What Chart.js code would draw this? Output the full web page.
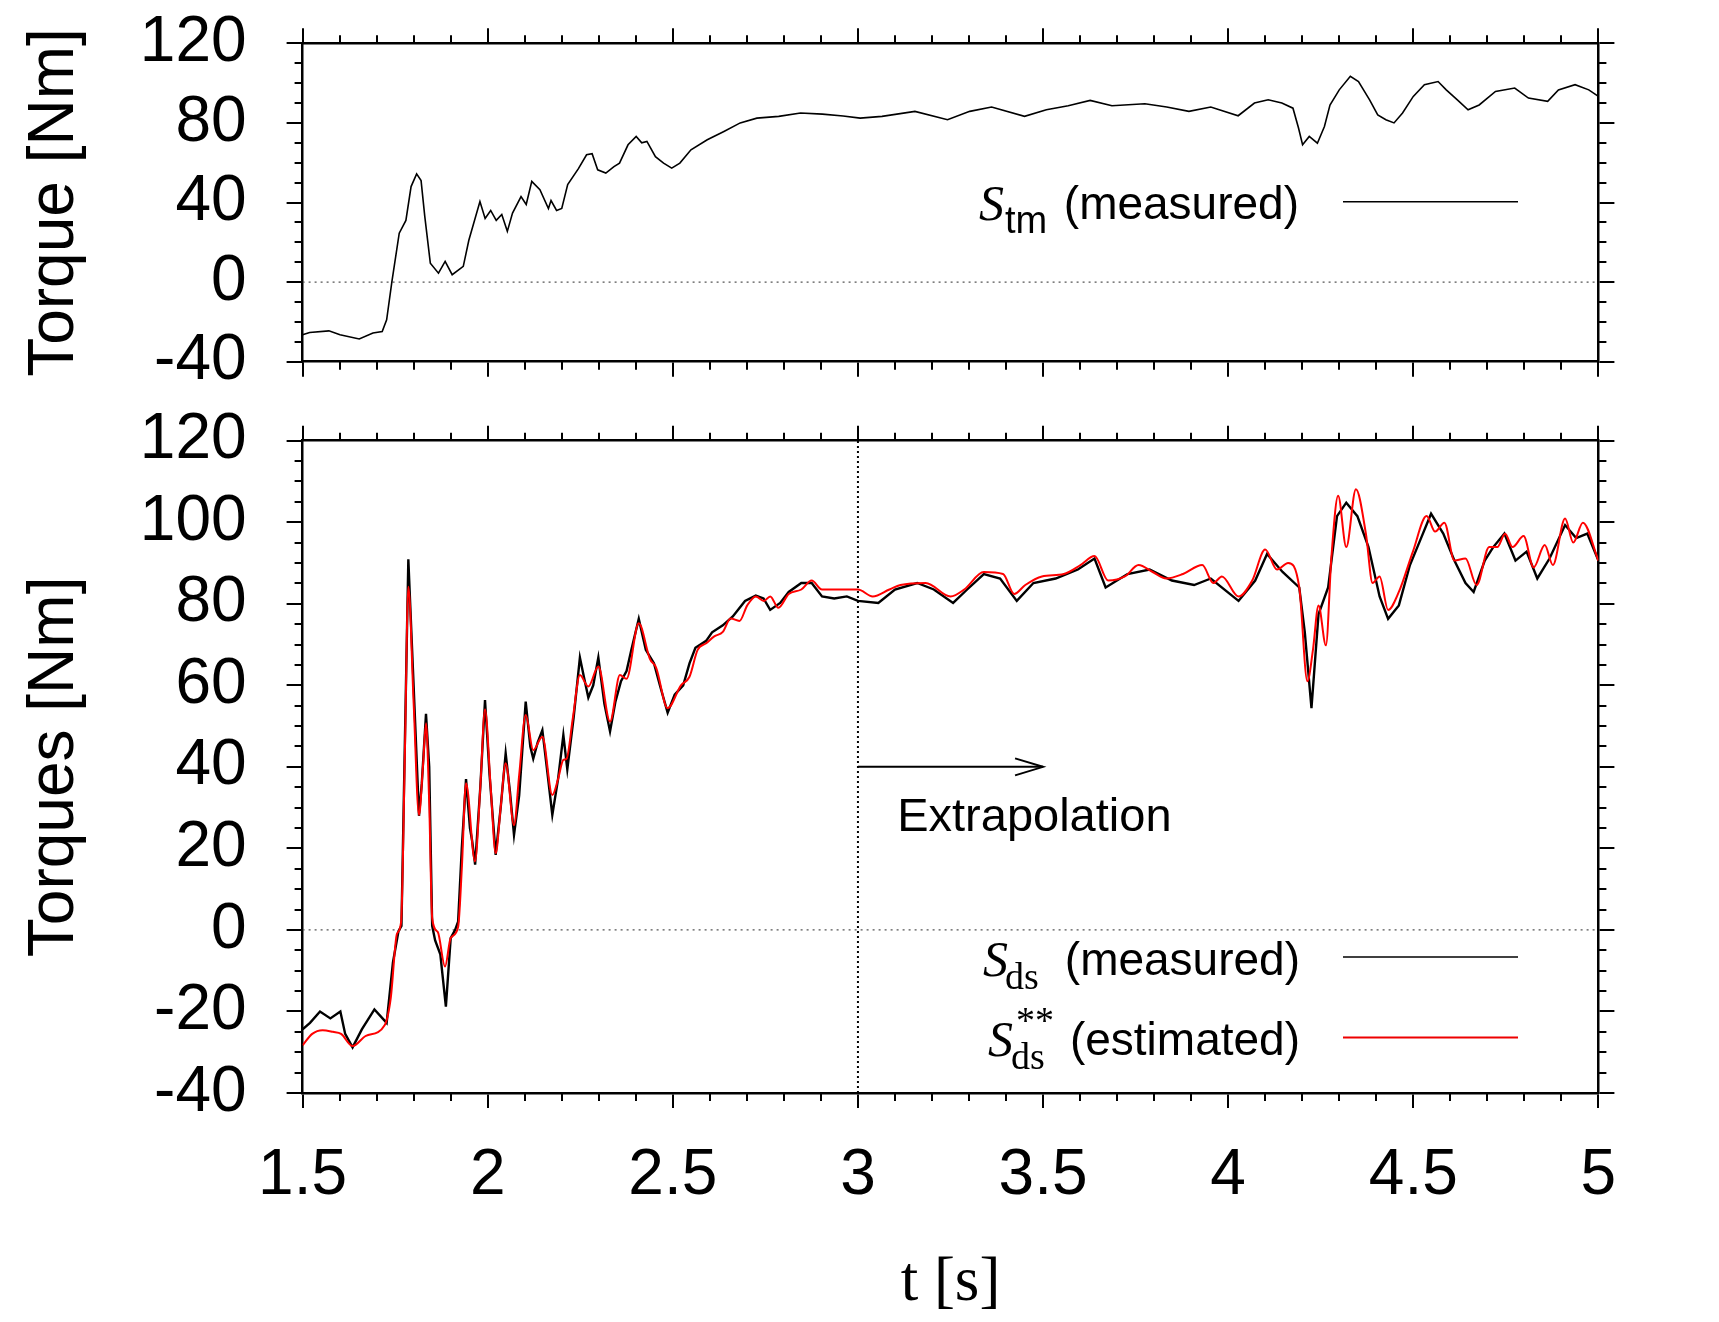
<!DOCTYPE html>
<html>
<head>
<meta charset="utf-8">
<script src="https://cdn.jsdelivr.net/npm/chart.js@4.4.1/dist/chart.umd.min.js"></script>
<style>
html,body{margin:0;padding:0;background:#fff;}
#wrap{position:relative;width:1719px;height:1322px;background:#fff;overflow:hidden;}
#c1{position:absolute;left:0;top:0;width:1719px;height:410px;}
#c2{position:absolute;left:0;top:400px;width:1719px;height:922px;}
</style>
</head>
<body>
<div id="wrap">
<canvas id="c1" width="1719" height="410"></canvas>
<canvas id="c2" width="1719" height="922"></canvas>
</div>
<script>
// ---------------- DATA ----------------
// Top panel: S_tm (measured)
const tmT = [1.5,1.519,1.571,1.601,1.653,1.69,1.715,1.727,1.741,1.761,1.779,1.793,1.808,1.82,1.83,1.845,1.867,1.885,1.904,1.934,1.949,1.979,1.993,2.008,2.023,2.038,2.053,2.067,2.09,2.104,2.119,2.141,2.164,2.171,2.186,2.2,2.216,2.245,2.267,2.282,2.297,2.319,2.341,2.356,2.379,2.401,2.416,2.43,2.453,2.475,2.497,2.519,2.549,2.593,2.638,2.682,2.727,2.786,2.845,2.904,2.96,3.006,3.065,3.154,3.242,3.302,3.361,3.45,3.509,3.568,3.627,3.686,3.775,3.834,3.894,3.953,4.027,4.071,4.108,4.145,4.175,4.19,4.201,4.219,4.241,4.26,4.275,4.3,4.33,4.352,4.382,4.404,4.426,4.448,4.471,4.5,4.53,4.567,4.589,4.619,4.648,4.678,4.722,4.774,4.811,4.863,4.892,4.937,4.974,5.0];
const tmV = [-26.5,-25.3,-24.5,-26.5,-28.6,-25.6,-24.8,-19,0,24.6,31,48,54.4,51,33,9.5,4.5,10.4,3.7,7.9,21,40.5,32,36,31,34,25.5,34.7,43,39,50.6,46.4,37,41,36,37,49,57,64,64.5,56.4,54.8,58,59.8,69,73.2,70,70.7,63,59.8,57.3,59.8,66.5,71.5,75.7,80,82.4,83.3,85,84.4,83.5,82.4,83.3,85.8,81.6,85.8,88,83.3,86.6,88.6,91.3,88.6,89.6,88,85.8,88,83.6,90,91.6,90,87.4,77.4,69,73.2,69.8,78.2,89,96.6,103.4,100.8,91.6,84,81.6,80,85,93.3,99.2,100.8,96.6,91.6,86.6,89,95.8,97.5,92.5,90.8,96.6,99.2,96.6,93.3];

// Bottom panel: S_ds (measured)
const dsT = [1.5,1.52,1.547,1.575,1.602,1.615,1.635,1.66,1.694,1.727,1.744,1.759,1.767,1.775,1.7856,1.798,1.8144,1.822,1.8333,1.842,1.85,1.858,1.872,1.887,1.9,1.912,1.92,1.93,1.9414,1.952,1.958,1.966,1.98,1.9927,2.005,2.0215,2.035,2.0485,2.06,2.071,2.085,2.1026,2.115,2.123,2.135,2.1476,2.162,2.1745,2.19,2.2043,2.215,2.232,2.249,2.26,2.2718,2.285,2.2988,2.315,2.3304,2.345,2.36,2.375,2.388,2.408,2.427,2.449,2.465,2.486,2.505,2.528,2.545,2.561,2.59,2.606,2.635,2.662,2.695,2.724,2.745,2.763,2.79,2.813,2.847,2.875,2.903,2.936,2.97,3.0,3.055,3.1,3.16,3.205,3.257,3.295,3.34,3.384,3.429,3.474,3.534,3.594,3.639,3.669,3.728,3.788,3.848,3.908,3.953,4.028,4.073,4.105,4.147,4.192,4.207,4.225,4.244,4.27,4.294,4.319,4.349,4.379,4.409,4.432,4.461,4.491,4.521,4.548,4.581,4.611,4.641,4.663,4.693,4.716,4.746,4.776,4.806,4.835,4.868,4.91,4.94,4.97,5.0];
const dsV = [-24.4,-22.8,-20,-21.7,-20,-25.5,-28.8,-24.4,-19.5,-22.8,-8,-0.3,1,40,90.9,64,28,36,53,40,1,-2.6,-6,-18.8,-2,0,2,20,37,25,21.8,16,35,56.4,38,18.4,30,43.3,34,23.3,33,56,45,42,46,49,38,28.2,37,47.8,39.4,52,66.8,62,57,60,66.8,55.5,48.7,56,61,63.5,68.7,76.3,68.7,65.4,60,53.3,57.7,60,65.4,69.2,70.9,73,74.7,76.9,80.7,82,81.3,78.5,80.2,82.9,85.1,85.1,81.8,81.3,81.8,80.7,80.2,83.5,85.1,83.5,80.2,83.5,87.3,86.2,80.7,85.1,86.2,88.4,91.1,84,87.3,88.4,85.7,84.6,86.2,80.7,85.7,92.2,87.8,84,73,54.4,77.4,84,101.5,104.8,101.5,93.9,81.8,76.3,79.6,89.5,96.1,102.1,97.2,90.6,85.1,82.9,90.6,93.9,97.2,90.6,92.8,86.2,91.1,99.3,96.1,97.2,90.6];

// Bottom panel: S_ds** (estimated)
const estT = [1.5,1.526,1.554,1.582,1.604,1.635,1.671,1.722,1.738,1.755,1.766,1.776,1.7856,1.8,1.8144,1.825,1.8333,1.842,1.85,1.865,1.8847,1.9,1.92,1.93,1.9414,1.9657,1.98,1.9927,2.008,2.0215,2.035,2.0485,2.071,2.085,2.1026,2.123,2.1476,2.1745,2.19,2.2043,2.213,2.23,2.249,2.2718,2.2988,2.3304,2.357,2.375,2.408,2.438,2.455,2.486,2.522,2.545,2.567,2.59,2.612,2.635,2.656,2.68,2.701,2.724,2.746,2.763,2.785,2.813,2.847,2.875,2.903,2.948,3.0,3.04,3.085,3.115,3.183,3.25,3.287,3.34,3.392,3.422,3.452,3.497,3.556,3.601,3.639,3.676,3.721,3.758,3.796,3.833,3.878,3.93,3.96,3.983,4.028,4.065,4.1,4.132,4.162,4.192,4.214,4.229,4.244,4.264,4.279,4.297,4.319,4.345,4.372,4.39,4.409,4.432,4.461,4.499,4.536,4.559,4.584,4.611,4.641,4.671,4.705,4.727,4.748,4.768,4.798,4.825,4.855,4.877,4.91,4.932,4.958,5.0];
const estV = [-28.3,-25.5,-24.6,-25,-25.5,-28.5,-26,-23.3,-16.8,-0.9,1.9,42,84.2,55.5,28.2,40,50.7,31,2.9,-0.5,-9,-2,0.7,15,36,16.8,35,54.1,35,18.8,30,40.9,25.7,38,52.7,44.1,47.4,33.1,37,41.7,42,52,62.5,59.7,64.6,51.1,62.5,61.6,75.2,66.5,64.3,54.4,60,62.1,68.7,70.3,72,73.1,76.4,75.8,79.6,81.8,80.7,81.8,79,82.4,83.5,85.7,83.5,83.5,83.5,81.8,83.5,84.6,85.1,81.8,83.5,87.8,87.3,82.4,84.6,86.7,87.3,89.5,91.7,85.7,86.7,89.5,87.8,86.2,87.3,89.5,85.1,86.7,81.8,85.7,93.3,88.4,90,84,61,68.7,79.6,69.8,91.7,106.5,93.9,108.1,97.2,85.1,86.7,78.5,82.9,92.8,101.5,97.7,99.9,90.6,91.1,84.6,93.9,93.9,97.2,93.9,96.6,88.9,94.4,89.5,100.9,95,99.9,90.6];

// Axes / ticks
const xTicks = [1.5, 2, 2.5, 3, 3.5, 4, 4.5, 5];
const yTopTicks = [-40, 0, 40, 80, 120];
const yBotTicks = [-40, -20, 0, 20, 40, 60, 80, 100, 120];

// Texts
const yTopTitle = 'Torque [Nm]';
const yBotTitle = 'Torques [Nm]';
const xTitle = 't [s]';
const legendTop = ['S', 'tm', '(measured)'];
const legendBot1 = ['S', 'ds', '(measured)'];
const legendBot2 = ['S', 'ds', '(estimated)', '**'];
const noteText = 'Extrapolation';

// Annotation anchors (data coordinates)
const extrapT = 3.0;
const arrowT = [3.0, 3.5];
const arrowV = 40;
const noteT = 3.106;
const noteV = 27.5;

// ---------------- HELPERS ----------------
const FS = '"Liberation Sans", Arial, Helvetica, sans-serif';
const FT = '"Liberation Serif", "Times New Roman", serif';
const pts = (T, V) => T.map((t, i) => ({x: t, y: V[i]}));

function decoPlugin(id, xMinor, xMajor, yMinor, yMajor) {
  return {
    id: id,
    afterDraw(chart) {
      const ctx = chart.ctx, a = chart.chartArea, xs = chart.scales.x, ys = chart.scales.y;
      const len = 8;
      const isMajor = (v, min, step) => { const r = (v - min) / step; return Math.abs(r - Math.round(r)) < 1e-6; };
      ctx.save();
      ctx.strokeStyle = '#000'; ctx.lineWidth = 2; ctx.setLineDash([]);
      ctx.beginPath();
      for (let i = 0; i < 1000; i++) {
        const v = xs.min + i * xMinor;
        if (v > xs.max + 1e-9) break;
        if (isMajor(v, xs.min, xMajor)) continue;
        const p = Math.round(xs.getPixelForValue(v));
        ctx.moveTo(p, a.bottom); ctx.lineTo(p, a.bottom + len);
        ctx.moveTo(p, a.top); ctx.lineTo(p, a.top - len);
      }
      for (let i = 0; i < 1000; i++) {
        const v = ys.min + i * yMinor;
        if (v > ys.max + 1e-9) break;
        if (isMajor(v, ys.min, yMajor)) continue;
        const p = Math.round(ys.getPixelForValue(v));
        ctx.moveTo(a.left, p); ctx.lineTo(a.left - len, p);
        ctx.moveTo(a.right, p); ctx.lineTo(a.right + len, p);
      }
      ctx.stroke();
      ctx.restore();
    }
  };
}

function drawLegendRow(ctx, r) {
  ctx.save();
  ctx.fillStyle = '#000';
  ctx.textBaseline = 'alphabetic';
  ctx.textAlign = 'left';
  ctx.font = 'italic 50px ' + FT;
  ctx.fillText(r.parts[0], r.sx, r.base + 1);
  ctx.font = r.subFont;
  ctx.fillText(r.parts[1], r.subx, r.base + 14);
  if (r.parts[3]) {
    ctx.font = '38px ' + FT;
    ctx.fillText(r.parts[3], r.supx, r.base - 22);
  }
  ctx.font = '46px ' + FS;
  ctx.textAlign = 'right';
  ctx.fillText(r.parts[2], r.R, r.base);
  ctx.strokeStyle = r.color; ctx.lineWidth = r.lw; ctx.setLineDash([]);
  ctx.beginPath(); ctx.moveTo(1343, r.ly); ctx.lineTo(1518, r.ly); ctx.stroke();
  ctx.restore();
}

const noPad = s => { s.paddingTop = 0; s.paddingBottom = 0; s.paddingLeft = 0; s.paddingRight = 0; };

function scalesFor(o) {
  const grid = {display: true, drawOnChartArea: false, drawTicks: true, color: '#000', tickColor: '#000', lineWidth: 2, tickWidth: 2};
  const border = {display: true, color: '#000', width: 2.5};
  const setX = s => { s.ticks = xTicks.map(v => ({value: v})); };
  const setY = s => { s.ticks = o.yTicks.map(v => ({value: v})); };
  return {
    x: {
      type: 'linear', position: 'bottom', min: 1.5, max: 5, afterBuildTicks: setX,
      ticks: {display: o.xLabels, autoSkip: false, maxRotation: 0, minRotation: 0, padding: 30, color: '#000',
              font: {family: FS, size: 64}, callback: v => String(v)},
      grid: Object.assign({}, grid, {tickLength: 15}), border: border,
      title: o.xTitle ? {display: true, text: o.xTitle, color: '#000', font: {family: FT, size: 63}, padding: {top: 0, bottom: 1}} : {display: false},
      afterFit: s => { s.height = o.xH; noPad(s); }
    },
    x2: {
      type: 'linear', position: 'top', min: 1.5, max: 5, afterBuildTicks: setX,
      ticks: {display: false, autoSkip: false},
      grid: Object.assign({}, grid, {tickLength: 15}), border: border,
      afterFit: s => { s.height = o.topH; noPad(s); }
    },
    y: {
      type: 'linear', position: 'left', min: -40, max: 120, afterBuildTicks: setY,
      ticks: {autoSkip: false, padding: 40, color: '#000', font: {family: FS, size: 64}, callback: v => String(v)},
      grid: Object.assign({}, grid, {tickLength: 16}), border: border,
      title: {display: true, text: o.yTitle, color: '#000', font: {family: FS, size: 64}, padding: {top: 17, bottom: 0}},
      afterFit: s => { s.width = 302.6; noPad(s); }
    },
    y2: {
      type: 'linear', position: 'right', min: -40, max: 120, afterBuildTicks: setY,
      ticks: {display: false, autoSkip: false},
      grid: Object.assign({}, grid, {tickLength: 16}), border: border,
      afterFit: s => { s.width = 1719 - 1598.4; noPad(s); }
    }
  };
}

const common = {
  responsive: false, maintainAspectRatio: false, animation: false, devicePixelRatio: 1, events: [],
  layout: {padding: 0},
  elements: {point: {radius: 0}},
  plugins: {legend: {display: false}, tooltip: {enabled: false}}
};

// ---------------- TOP CHART ----------------
const topExtras = {
  id: 'topExtras',
  afterDraw(chart) {
    drawLegendRow(chart.ctx, {parts: legendTop, sx: 979, subx: 1005, subFont: '38px ' + FS, R: 1299, base: 219, ly: 201.7, color: '#000', lw: 1.5});
  }
};

new Chart(document.getElementById('c1'), {
  type: 'line',
  data: {
    datasets: [
      {label: 'S_tm (measured)', data: pts(tmT, tmV), borderColor: '#000', borderWidth: 1.6, tension: 0, pointRadius: 0},
      {label: 'zero', data: [{x: 1.5, y: 0}, {x: 5, y: 0}], borderColor: '#555', borderWidth: 1.2, borderDash: [2, 4], pointRadius: 0}
    ]
  },
  options: Object.assign({}, common, {
    scales: scalesFor({yTicks: yTopTicks, xLabels: false, xTitle: null, yTitle: yTopTitle, xH: 410 - 361.7, topH: 43.3})
  }),
  plugins: [decoPlugin('deco1', 0.1, 0.5, 10, 40), topExtras]
});

// ---------------- BOTTOM CHART ----------------
const botExtras = {
  id: 'botExtras',
  afterDraw(chart) {
    const ctx = chart.ctx, xs = chart.scales.x, ys = chart.scales.y;
    const px = xs.getPixelForValue(arrowT[1]), py = ys.getPixelForValue(arrowV);
    ctx.save();
    ctx.strokeStyle = '#000'; ctx.lineWidth = 2; ctx.setLineDash([]);
    ctx.beginPath();
    ctx.moveTo(px - 28, py - 8.5); ctx.lineTo(px, py); ctx.lineTo(px - 28, py + 8.5);
    ctx.stroke();
    ctx.fillStyle = '#000'; ctx.font = '47px ' + FS; ctx.textAlign = 'left'; ctx.textBaseline = 'middle';
    ctx.fillText(noteText, xs.getPixelForValue(noteT), ys.getPixelForValue(noteV));
    ctx.restore();
    drawLegendRow(ctx, {parts: legendBot1, sx: 983, subx: 1005, subFont: '38px ' + FT, R: 1300, base: 575, ly: 557, color: '#000', lw: 1.5});
    drawLegendRow(ctx, {parts: legendBot2, sx: 988, subx: 1011, supx: 1016, subFont: '38px ' + FT, R: 1300, base: 655, ly: 637.5, color: '#e00', lw: 2});
  }
};

new Chart(document.getElementById('c2'), {
  type: 'line',
  data: {
    datasets: [
      {label: 'S_ds** (estimated)', data: pts(estT, estV), borderColor: '#f00', borderWidth: 2, cubicInterpolationMode: 'monotone', pointRadius: 0},
      {label: 'S_ds (measured)', data: pts(dsT, dsV), borderColor: '#000', borderWidth: 2.4, tension: 0, pointRadius: 0},
      {label: 'arrow', data: [{x: arrowT[0], y: arrowV}, {x: arrowT[1], y: arrowV}], borderColor: '#000', borderWidth: 2, pointRadius: 0},
      {label: 'extrapolation start', data: [{x: extrapT, y: yBotTicks[0]}, {x: extrapT, y: yBotTicks[yBotTicks.length - 1]}], borderColor: '#000', borderWidth: 2, borderDash: [2, 3], pointRadius: 0},
      {label: 'zero', data: [{x: 1.5, y: 0}, {x: 5, y: 0}], borderColor: '#555', borderWidth: 1.2, borderDash: [2, 4], pointRadius: 0}
    ]
  },
  options: Object.assign({}, common, {
    scales: scalesFor({yTicks: yBotTicks, xLabels: true, xTitle: xTitle, yTitle: yBotTitle, xH: 922 - 693, topH: 40.7})
  }),
  plugins: [decoPlugin('deco2', 0.1, 0.5, 5, 20), botExtras]
});
</script>
</body>
</html>
